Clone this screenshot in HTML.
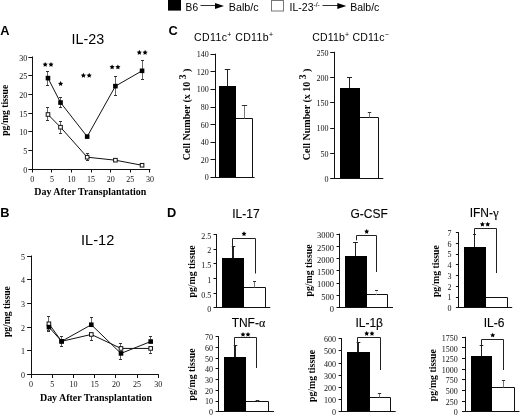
<!DOCTYPE html>
<html><head><meta charset="utf-8"><style>
html,body{margin:0;padding:0;background:#fff;width:520px;height:416px;overflow:hidden;}
svg{display:block;filter:blur(0.3px);}
</style></head><body>
<svg width="520" height="416" viewBox="0 0 520 416">
<text x="0.30" y="35.30" font-family="Liberation Sans, sans-serif" font-size="12.8" font-weight="bold" text-anchor="start" fill="#000" >A</text>
<text x="0.30" y="217.40" font-family="Liberation Sans, sans-serif" font-size="12.8" font-weight="bold" text-anchor="start" fill="#000" >B</text>
<text x="168.60" y="35.40" font-family="Liberation Sans, sans-serif" font-size="12.8" font-weight="bold" text-anchor="start" fill="#000" >C</text>
<text x="167.10" y="217.30" font-family="Liberation Sans, sans-serif" font-size="12.8" font-weight="bold" text-anchor="start" fill="#000" >D</text>
<rect x="168" y="-1" width="13" height="11.6" fill="#000"/>
<text x="185.60" y="11.00" font-family="Liberation Sans, sans-serif" font-size="10.2" font-weight="normal" text-anchor="start" fill="#000" >B6</text>
<line x1="200.50" y1="5.50" x2="216.00" y2="5.50" stroke="#333" stroke-width="1"/>
<polygon points="215,2.9 224,5.9 215,8.9" fill="#000"/>
<text x="228.80" y="11.00" font-family="Liberation Sans, sans-serif" font-size="10.5" font-weight="normal" text-anchor="start" fill="#000" textLength="29.9" lengthAdjust="spacingAndGlyphs">Balb/c</text>
<rect x="271.5" y="0.5" width="12" height="10.5" fill="#fff" stroke="#777" stroke-width="1"/>
<text x="289.60" y="10.90" font-family="Liberation Sans, sans-serif" font-size="10.5" font-weight="normal" text-anchor="start" fill="#000" >IL-23<tspan font-size="6.5" dy="-4.3">-/-</tspan></text>
<line x1="322.50" y1="5.50" x2="338.00" y2="5.50" stroke="#333" stroke-width="1"/>
<polygon points="337.3,2.9 346.3,5.9 337.3,8.9" fill="#000"/>
<text x="350.20" y="10.90" font-family="Liberation Sans, sans-serif" font-size="10.5" font-weight="normal" text-anchor="start" fill="#000" >Balb/c</text>
<line x1="32.50" y1="56.51" x2="32.50" y2="170.00" stroke="#111" stroke-width="1"/>
<line x1="32.00" y1="169.50" x2="150.40" y2="169.50" stroke="#111" stroke-width="1"/>
<line x1="28.30" y1="169.50" x2="32.50" y2="169.50" stroke="#111" stroke-width="1"/>
<text x="27.30" y="172.50" font-family="Liberation Serif, serif" font-size="8" font-weight="normal" text-anchor="end" fill="#111" >0</text>
<line x1="28.30" y1="150.50" x2="32.50" y2="150.50" stroke="#111" stroke-width="1"/>
<text x="27.30" y="153.84" font-family="Liberation Serif, serif" font-size="8" font-weight="normal" text-anchor="end" fill="#111" >5</text>
<line x1="28.30" y1="131.50" x2="32.50" y2="131.50" stroke="#111" stroke-width="1"/>
<text x="27.30" y="135.17" font-family="Liberation Serif, serif" font-size="8" font-weight="normal" text-anchor="end" fill="#111" >10</text>
<line x1="28.30" y1="113.50" x2="32.50" y2="113.50" stroke="#111" stroke-width="1"/>
<text x="27.30" y="116.50" font-family="Liberation Serif, serif" font-size="8" font-weight="normal" text-anchor="end" fill="#111" >15</text>
<line x1="28.30" y1="94.50" x2="32.50" y2="94.50" stroke="#111" stroke-width="1"/>
<text x="27.30" y="97.84" font-family="Liberation Serif, serif" font-size="8" font-weight="normal" text-anchor="end" fill="#111" >20</text>
<line x1="28.30" y1="75.50" x2="32.50" y2="75.50" stroke="#111" stroke-width="1"/>
<text x="27.30" y="79.17" font-family="Liberation Serif, serif" font-size="8" font-weight="normal" text-anchor="end" fill="#111" >25</text>
<line x1="28.30" y1="57.50" x2="32.50" y2="57.50" stroke="#111" stroke-width="1"/>
<text x="27.30" y="60.51" font-family="Liberation Serif, serif" font-size="8" font-weight="normal" text-anchor="end" fill="#111" >30</text>
<line x1="32.50" y1="169.50" x2="32.50" y2="172.50" stroke="#111" stroke-width="1"/>
<text x="32.30" y="181.50" font-family="Liberation Serif, serif" font-size="8" font-weight="normal" text-anchor="middle" fill="#111" >0</text>
<line x1="51.50" y1="169.50" x2="51.50" y2="172.50" stroke="#111" stroke-width="1"/>
<text x="51.90" y="181.50" font-family="Liberation Serif, serif" font-size="8" font-weight="normal" text-anchor="middle" fill="#111" >5</text>
<line x1="71.50" y1="169.50" x2="71.50" y2="172.50" stroke="#111" stroke-width="1"/>
<text x="71.50" y="181.50" font-family="Liberation Serif, serif" font-size="8" font-weight="normal" text-anchor="middle" fill="#111" >10</text>
<line x1="91.50" y1="169.50" x2="91.50" y2="172.50" stroke="#111" stroke-width="1"/>
<text x="91.10" y="181.50" font-family="Liberation Serif, serif" font-size="8" font-weight="normal" text-anchor="middle" fill="#111" >15</text>
<line x1="110.50" y1="169.50" x2="110.50" y2="172.50" stroke="#111" stroke-width="1"/>
<text x="110.70" y="181.50" font-family="Liberation Serif, serif" font-size="8" font-weight="normal" text-anchor="middle" fill="#111" >20</text>
<line x1="130.50" y1="169.50" x2="130.50" y2="172.50" stroke="#111" stroke-width="1"/>
<text x="130.30" y="181.50" font-family="Liberation Serif, serif" font-size="8" font-weight="normal" text-anchor="middle" fill="#111" >25</text>
<line x1="149.50" y1="169.50" x2="149.50" y2="172.50" stroke="#111" stroke-width="1"/>
<text x="149.90" y="181.50" font-family="Liberation Serif, serif" font-size="8" font-weight="normal" text-anchor="middle" fill="#111" >30</text>
<polyline points="47.98,114.50 60.52,127.19 87.18,157.20 115.40,160.19 142.06,165.27" fill="none" stroke="#111" stroke-width="1"/>
<polyline points="47.98,78.10 60.52,102.55 87.18,136.60 115.40,86.13 142.06,70.82" fill="none" stroke="#111" stroke-width="1"/>
<line x1="47.50" y1="114.50" x2="47.50" y2="107.78" stroke="#666" stroke-width="1"/>
<line x1="46.00" y1="107.50" x2="49.00" y2="107.50" stroke="#333" stroke-width="1"/>
<line x1="47.50" y1="114.50" x2="47.50" y2="120.84" stroke="#666" stroke-width="1"/>
<line x1="46.00" y1="120.50" x2="49.00" y2="120.50" stroke="#333" stroke-width="1"/>
<line x1="60.50" y1="127.19" x2="60.50" y2="121.22" stroke="#666" stroke-width="1"/>
<line x1="59.00" y1="121.50" x2="62.00" y2="121.50" stroke="#333" stroke-width="1"/>
<line x1="60.50" y1="127.19" x2="60.50" y2="133.54" stroke="#666" stroke-width="1"/>
<line x1="59.00" y1="133.50" x2="62.00" y2="133.50" stroke="#333" stroke-width="1"/>
<line x1="87.50" y1="157.20" x2="87.50" y2="153.47" stroke="#666" stroke-width="1"/>
<line x1="86.00" y1="153.50" x2="89.00" y2="153.50" stroke="#333" stroke-width="1"/>
<line x1="87.50" y1="157.20" x2="87.50" y2="160.94" stroke="#666" stroke-width="1"/>
<line x1="86.00" y1="160.50" x2="89.00" y2="160.50" stroke="#333" stroke-width="1"/>
<line x1="47.50" y1="78.10" x2="47.50" y2="71.01" stroke="#666" stroke-width="1"/>
<line x1="46.00" y1="71.50" x2="49.00" y2="71.50" stroke="#333" stroke-width="1"/>
<line x1="47.50" y1="78.10" x2="47.50" y2="85.19" stroke="#666" stroke-width="1"/>
<line x1="46.00" y1="85.50" x2="49.00" y2="85.50" stroke="#333" stroke-width="1"/>
<line x1="60.50" y1="102.55" x2="60.50" y2="97.33" stroke="#666" stroke-width="1"/>
<line x1="59.00" y1="97.50" x2="62.00" y2="97.50" stroke="#333" stroke-width="1"/>
<line x1="60.50" y1="102.55" x2="60.50" y2="107.78" stroke="#666" stroke-width="1"/>
<line x1="59.00" y1="107.50" x2="62.00" y2="107.50" stroke="#333" stroke-width="1"/>
<line x1="115.50" y1="86.13" x2="115.50" y2="76.42" stroke="#666" stroke-width="1"/>
<line x1="114.00" y1="76.50" x2="117.00" y2="76.50" stroke="#333" stroke-width="1"/>
<line x1="115.50" y1="86.13" x2="115.50" y2="95.83" stroke="#666" stroke-width="1"/>
<line x1="114.00" y1="95.50" x2="117.00" y2="95.50" stroke="#333" stroke-width="1"/>
<line x1="142.50" y1="70.82" x2="142.50" y2="60.74" stroke="#666" stroke-width="1"/>
<line x1="141.00" y1="60.50" x2="144.00" y2="60.50" stroke="#333" stroke-width="1"/>
<line x1="142.50" y1="70.82" x2="142.50" y2="79.41" stroke="#666" stroke-width="1"/>
<line x1="141.00" y1="79.50" x2="144.00" y2="79.50" stroke="#333" stroke-width="1"/>
<rect x="46.18" y="112.70" width="3.5999999999999996" height="3.5999999999999996" fill="#fff" stroke="#111" stroke-width="1"/>
<rect x="58.72" y="125.39" width="3.5999999999999996" height="3.5999999999999996" fill="#fff" stroke="#111" stroke-width="1"/>
<rect x="85.38" y="155.40" width="3.5999999999999996" height="3.5999999999999996" fill="#fff" stroke="#111" stroke-width="1"/>
<rect x="113.60" y="158.39" width="3.5999999999999996" height="3.5999999999999996" fill="#fff" stroke="#111" stroke-width="1"/>
<rect x="140.26" y="163.47" width="3.5999999999999996" height="3.5999999999999996" fill="#fff" stroke="#111" stroke-width="1"/>
<rect x="45.68" y="75.80" width="4.6" height="4.6" fill="#000"/>
<rect x="58.22" y="100.25" width="4.6" height="4.6" fill="#000"/>
<rect x="84.88" y="134.30" width="4.6" height="4.6" fill="#000"/>
<rect x="113.10" y="83.83" width="4.6" height="4.6" fill="#000"/>
<rect x="139.76" y="68.52" width="4.6" height="4.6" fill="#000"/>
<text x="71.50" y="44.00" font-family="Liberation Sans, sans-serif" font-size="14.3" font-weight="normal" text-anchor="start" fill="#000" >IL-23</text>
<text transform="translate(8.00,110.30) rotate(-90) scale(1,1.0)" font-family="Liberation Serif, serif" font-size="9.6" font-weight="bold" text-anchor="middle" fill="#000">pg/mg tissue</text>
<text x="90.30" y="195.30" font-family="Liberation Serif, serif" font-size="9.95" font-weight="bold" text-anchor="middle" fill="#000" >Day After Transplantation</text>
<polygon points="45.20,61.97 45.99,63.58 47.77,63.84 46.48,65.09 46.79,66.85 45.20,66.02 43.61,66.85 43.92,65.09 42.63,63.84 44.41,63.58" fill="#000"/>
<polygon points="51.00,61.97 51.79,63.58 53.57,63.84 52.28,65.09 52.59,66.85 51.00,66.02 49.41,66.85 49.72,65.09 48.43,63.84 50.21,63.58" fill="#000"/>
<polygon points="60.60,81.07 61.39,82.68 63.17,82.94 61.88,84.19 62.19,85.95 60.60,85.12 59.01,85.95 59.32,84.19 58.03,82.94 59.81,82.68" fill="#000"/>
<polygon points="83.40,72.77 84.19,74.38 85.97,74.64 84.68,75.89 84.99,77.65 83.40,76.82 81.81,77.65 82.12,75.89 80.83,74.64 82.61,74.38" fill="#000"/>
<polygon points="89.20,72.77 89.99,74.38 91.77,74.64 90.48,75.89 90.79,77.65 89.20,76.82 87.61,77.65 87.92,75.89 86.63,74.64 88.41,74.38" fill="#000"/>
<polygon points="112.10,64.47 112.89,66.08 114.67,66.34 113.38,67.59 113.69,69.35 112.10,68.52 110.51,69.35 110.82,67.59 109.53,66.34 111.31,66.08" fill="#000"/>
<polygon points="117.90,64.47 118.69,66.08 120.47,66.34 119.18,67.59 119.49,69.35 117.90,68.52 116.31,69.35 116.62,67.59 115.33,66.34 117.11,66.08" fill="#000"/>
<polygon points="139.30,49.87 140.09,51.48 141.87,51.74 140.58,52.99 140.89,54.75 139.30,53.92 137.71,54.75 138.02,52.99 136.73,51.74 138.51,51.48" fill="#000"/>
<polygon points="145.10,49.87 145.89,51.48 147.67,51.74 146.38,52.99 146.69,54.75 145.10,53.92 143.51,54.75 143.82,52.99 142.53,51.74 144.31,51.48" fill="#000"/>
<line x1="31.50" y1="255.50" x2="31.50" y2="375.00" stroke="#111" stroke-width="1"/>
<line x1="31.00" y1="374.50" x2="158.80" y2="374.50" stroke="#111" stroke-width="1"/>
<line x1="27.10" y1="374.50" x2="31.50" y2="374.50" stroke="#111" stroke-width="1"/>
<text x="25.10" y="378.00" font-family="Liberation Serif, serif" font-size="8" font-weight="normal" text-anchor="end" fill="#111" >0</text>
<line x1="27.10" y1="350.50" x2="31.50" y2="350.50" stroke="#111" stroke-width="1"/>
<text x="25.10" y="354.30" font-family="Liberation Serif, serif" font-size="8" font-weight="normal" text-anchor="end" fill="#111" >1</text>
<line x1="27.10" y1="327.50" x2="31.50" y2="327.50" stroke="#111" stroke-width="1"/>
<text x="25.10" y="330.60" font-family="Liberation Serif, serif" font-size="8" font-weight="normal" text-anchor="end" fill="#111" >2</text>
<line x1="27.10" y1="303.50" x2="31.50" y2="303.50" stroke="#111" stroke-width="1"/>
<text x="25.10" y="306.90" font-family="Liberation Serif, serif" font-size="8" font-weight="normal" text-anchor="end" fill="#111" >3</text>
<line x1="27.10" y1="279.50" x2="31.50" y2="279.50" stroke="#111" stroke-width="1"/>
<text x="25.10" y="283.20" font-family="Liberation Serif, serif" font-size="8" font-weight="normal" text-anchor="end" fill="#111" >4</text>
<line x1="27.10" y1="256.50" x2="31.50" y2="256.50" stroke="#111" stroke-width="1"/>
<text x="25.10" y="259.50" font-family="Liberation Serif, serif" font-size="8" font-weight="normal" text-anchor="end" fill="#111" >5</text>
<line x1="31.50" y1="374.50" x2="31.50" y2="378.00" stroke="#111" stroke-width="1"/>
<text x="31.10" y="387.00" font-family="Liberation Serif, serif" font-size="8" font-weight="normal" text-anchor="middle" fill="#111" >0</text>
<line x1="52.50" y1="374.50" x2="52.50" y2="378.00" stroke="#111" stroke-width="1"/>
<text x="52.30" y="387.00" font-family="Liberation Serif, serif" font-size="8" font-weight="normal" text-anchor="middle" fill="#111" >5</text>
<line x1="73.50" y1="374.50" x2="73.50" y2="378.00" stroke="#111" stroke-width="1"/>
<text x="73.50" y="387.00" font-family="Liberation Serif, serif" font-size="8" font-weight="normal" text-anchor="middle" fill="#111" >10</text>
<line x1="94.50" y1="374.50" x2="94.50" y2="378.00" stroke="#111" stroke-width="1"/>
<text x="94.70" y="387.00" font-family="Liberation Serif, serif" font-size="8" font-weight="normal" text-anchor="middle" fill="#111" >15</text>
<line x1="115.50" y1="374.50" x2="115.50" y2="378.00" stroke="#111" stroke-width="1"/>
<text x="115.90" y="387.00" font-family="Liberation Serif, serif" font-size="8" font-weight="normal" text-anchor="middle" fill="#111" >20</text>
<line x1="137.50" y1="374.50" x2="137.50" y2="378.00" stroke="#111" stroke-width="1"/>
<text x="137.10" y="387.00" font-family="Liberation Serif, serif" font-size="8" font-weight="normal" text-anchor="middle" fill="#111" >25</text>
<line x1="158.50" y1="374.50" x2="158.50" y2="378.00" stroke="#111" stroke-width="1"/>
<text x="158.30" y="387.00" font-family="Liberation Serif, serif" font-size="8" font-weight="normal" text-anchor="middle" fill="#111" >30</text>
<polyline points="48.91,323.78 61.63,341.32 91.31,334.45 120.99,348.43 150.67,348.43" fill="none" stroke="#111" stroke-width="1"/>
<polyline points="48.91,327.10 61.63,341.32 91.31,324.73 120.99,353.41 150.67,341.56" fill="none" stroke="#111" stroke-width="1"/>
<line x1="48.50" y1="323.78" x2="48.50" y2="316.67" stroke="#666" stroke-width="1"/>
<line x1="47.00" y1="316.50" x2="50.00" y2="316.50" stroke="#333" stroke-width="1"/>
<line x1="48.50" y1="323.78" x2="48.50" y2="330.89" stroke="#666" stroke-width="1"/>
<line x1="47.00" y1="330.50" x2="50.00" y2="330.50" stroke="#333" stroke-width="1"/>
<line x1="91.50" y1="334.45" x2="91.50" y2="340.85" stroke="#666" stroke-width="1"/>
<line x1="90.00" y1="340.50" x2="93.00" y2="340.50" stroke="#333" stroke-width="1"/>
<line x1="120.50" y1="348.43" x2="120.50" y2="343.69" stroke="#666" stroke-width="1"/>
<line x1="119.00" y1="343.50" x2="122.00" y2="343.50" stroke="#333" stroke-width="1"/>
<line x1="150.50" y1="348.43" x2="150.50" y2="353.17" stroke="#666" stroke-width="1"/>
<line x1="149.00" y1="353.50" x2="152.00" y2="353.50" stroke="#333" stroke-width="1"/>
<line x1="48.50" y1="327.10" x2="48.50" y2="322.36" stroke="#666" stroke-width="1"/>
<line x1="47.00" y1="322.50" x2="50.00" y2="322.50" stroke="#333" stroke-width="1"/>
<line x1="48.50" y1="327.10" x2="48.50" y2="331.84" stroke="#666" stroke-width="1"/>
<line x1="47.00" y1="331.50" x2="50.00" y2="331.50" stroke="#333" stroke-width="1"/>
<line x1="61.50" y1="341.32" x2="61.50" y2="336.58" stroke="#666" stroke-width="1"/>
<line x1="60.00" y1="336.50" x2="63.00" y2="336.50" stroke="#333" stroke-width="1"/>
<line x1="61.50" y1="341.32" x2="61.50" y2="346.06" stroke="#666" stroke-width="1"/>
<line x1="60.00" y1="346.50" x2="63.00" y2="346.50" stroke="#333" stroke-width="1"/>
<line x1="91.50" y1="324.73" x2="91.50" y2="317.62" stroke="#666" stroke-width="1"/>
<line x1="90.00" y1="317.50" x2="93.00" y2="317.50" stroke="#333" stroke-width="1"/>
<line x1="120.50" y1="353.41" x2="120.50" y2="359.81" stroke="#666" stroke-width="1"/>
<line x1="119.00" y1="359.50" x2="122.00" y2="359.50" stroke="#333" stroke-width="1"/>
<line x1="150.50" y1="341.56" x2="150.50" y2="336.82" stroke="#666" stroke-width="1"/>
<line x1="149.00" y1="336.50" x2="152.00" y2="336.50" stroke="#333" stroke-width="1"/>
<rect x="47.11" y="321.98" width="3.5999999999999996" height="3.5999999999999996" fill="#fff" stroke="#111" stroke-width="1"/>
<rect x="59.83" y="339.52" width="3.5999999999999996" height="3.5999999999999996" fill="#fff" stroke="#111" stroke-width="1"/>
<rect x="89.51" y="332.65" width="3.5999999999999996" height="3.5999999999999996" fill="#fff" stroke="#111" stroke-width="1"/>
<rect x="119.19" y="346.63" width="3.5999999999999996" height="3.5999999999999996" fill="#fff" stroke="#111" stroke-width="1"/>
<rect x="148.87" y="346.63" width="3.5999999999999996" height="3.5999999999999996" fill="#fff" stroke="#111" stroke-width="1"/>
<rect x="46.61" y="324.80" width="4.6" height="4.6" fill="#000"/>
<rect x="59.33" y="339.02" width="4.6" height="4.6" fill="#000"/>
<rect x="89.01" y="322.43" width="4.6" height="4.6" fill="#000"/>
<rect x="118.69" y="351.11" width="4.6" height="4.6" fill="#000"/>
<rect x="148.37" y="339.26" width="4.6" height="4.6" fill="#000"/>
<text x="81.00" y="245.30" font-family="Liberation Sans, sans-serif" font-size="14.6" font-weight="normal" text-anchor="start" fill="#000" >IL-12</text>
<text transform="translate(9.80,311.60) rotate(-90) scale(1,1.0)" font-family="Liberation Serif, serif" font-size="9.6" font-weight="bold" text-anchor="middle" fill="#000">pg/mg tissue</text>
<text x="96.00" y="401.40" font-family="Liberation Serif, serif" font-size="9.95" font-weight="bold" text-anchor="middle" fill="#000" >Day After Transplantation</text>
<line x1="215.50" y1="53.70" x2="215.50" y2="178.00" stroke="#111" stroke-width="1"/>
<line x1="210.50" y1="177.50" x2="215.50" y2="177.50" stroke="#111" stroke-width="1"/>
<text x="208.70" y="180.40" font-family="Liberation Serif, serif" font-size="8" font-weight="normal" text-anchor="end" fill="#111" >0</text>
<line x1="210.50" y1="159.50" x2="215.50" y2="159.50" stroke="#111" stroke-width="1"/>
<text x="208.70" y="162.77" font-family="Liberation Serif, serif" font-size="8" font-weight="normal" text-anchor="end" fill="#111" >20</text>
<line x1="210.50" y1="142.50" x2="215.50" y2="142.50" stroke="#111" stroke-width="1"/>
<text x="208.70" y="145.14" font-family="Liberation Serif, serif" font-size="8" font-weight="normal" text-anchor="end" fill="#111" >40</text>
<line x1="210.50" y1="124.50" x2="215.50" y2="124.50" stroke="#111" stroke-width="1"/>
<text x="208.70" y="127.51" font-family="Liberation Serif, serif" font-size="8" font-weight="normal" text-anchor="end" fill="#111" >60</text>
<line x1="210.50" y1="107.50" x2="215.50" y2="107.50" stroke="#111" stroke-width="1"/>
<text x="208.70" y="109.89" font-family="Liberation Serif, serif" font-size="8" font-weight="normal" text-anchor="end" fill="#111" >80</text>
<line x1="210.50" y1="89.50" x2="215.50" y2="89.50" stroke="#111" stroke-width="1"/>
<text x="208.70" y="92.26" font-family="Liberation Serif, serif" font-size="8" font-weight="normal" text-anchor="end" fill="#111" >100</text>
<line x1="210.50" y1="71.50" x2="215.50" y2="71.50" stroke="#111" stroke-width="1"/>
<text x="208.70" y="74.63" font-family="Liberation Serif, serif" font-size="8" font-weight="normal" text-anchor="end" fill="#111" >120</text>
<line x1="210.50" y1="54.50" x2="215.50" y2="54.50" stroke="#111" stroke-width="1"/>
<text x="208.70" y="57.00" font-family="Liberation Serif, serif" font-size="8" font-weight="normal" text-anchor="end" fill="#111" >140</text>
<rect x="219" y="86" width="17" height="92.00" fill="#000"/>
<path d="M236,118.5 H252.5 V177.5" fill="none" stroke="#111" stroke-width="1"/>
<line x1="227.50" y1="86.00" x2="227.50" y2="69.80" stroke="#222" stroke-width="1"/>
<line x1="224.75" y1="69.50" x2="230.25" y2="69.50" stroke="#222" stroke-width="1"/>
<line x1="244.50" y1="118.50" x2="244.50" y2="105.00" stroke="#777" stroke-width="1"/>
<line x1="241.85" y1="105.50" x2="247.15" y2="105.50" stroke="#333" stroke-width="1"/>
<line x1="215.00" y1="177.50" x2="254.50" y2="177.50" stroke="#111" stroke-width="1"/>
<text x="194.00" y="40.80" font-family="Liberation Sans, sans-serif" font-size="10.5" font-weight="normal" text-anchor="start" fill="#000" letter-spacing="0.4">CD11c<tspan font-size="7" dy="-4">+</tspan><tspan dy="4"> CD11b</tspan><tspan font-size="7" dy="-4">+</tspan></text>
<text transform="translate(189.90,160.20) rotate(-90) scale(1,1.0)" font-family="Liberation Serif, serif" font-size="10" font-weight="bold" text-anchor="start" fill="#000">Cell Number (x 10 <tspan font-size="9.5" dy="-4">3</tspan><tspan dy="4"> )</tspan></text>
<line x1="334.50" y1="51.80" x2="334.50" y2="179.00" stroke="#111" stroke-width="1"/>
<line x1="330.20" y1="178.50" x2="334.50" y2="178.50" stroke="#111" stroke-width="1"/>
<text x="328.40" y="181.80" font-family="Liberation Serif, serif" font-size="8" font-weight="normal" text-anchor="end" fill="#111" >0</text>
<line x1="330.20" y1="153.50" x2="334.50" y2="153.50" stroke="#111" stroke-width="1"/>
<text x="328.40" y="156.54" font-family="Liberation Serif, serif" font-size="8" font-weight="normal" text-anchor="end" fill="#111" >50</text>
<line x1="330.20" y1="128.50" x2="334.50" y2="128.50" stroke="#111" stroke-width="1"/>
<text x="328.40" y="131.28" font-family="Liberation Serif, serif" font-size="8" font-weight="normal" text-anchor="end" fill="#111" >100</text>
<line x1="330.20" y1="102.50" x2="334.50" y2="102.50" stroke="#111" stroke-width="1"/>
<text x="328.40" y="106.02" font-family="Liberation Serif, serif" font-size="8" font-weight="normal" text-anchor="end" fill="#111" >150</text>
<line x1="330.20" y1="77.50" x2="334.50" y2="77.50" stroke="#111" stroke-width="1"/>
<text x="328.40" y="80.76" font-family="Liberation Serif, serif" font-size="8" font-weight="normal" text-anchor="end" fill="#111" >200</text>
<line x1="330.20" y1="52.50" x2="334.50" y2="52.50" stroke="#111" stroke-width="1"/>
<text x="328.40" y="55.50" font-family="Liberation Serif, serif" font-size="8" font-weight="normal" text-anchor="end" fill="#111" >250</text>
<rect x="340" y="88" width="20" height="91.00" fill="#000"/>
<path d="M360,117.5 H378.5 V178.5" fill="none" stroke="#111" stroke-width="1"/>
<line x1="349.50" y1="88.00" x2="349.50" y2="77.20" stroke="#222" stroke-width="1"/>
<line x1="347.00" y1="77.50" x2="352.00" y2="77.50" stroke="#222" stroke-width="1"/>
<line x1="369.50" y1="117.50" x2="369.50" y2="112.20" stroke="#777" stroke-width="1"/>
<line x1="367.80" y1="112.50" x2="371.20" y2="112.50" stroke="#333" stroke-width="1"/>
<line x1="334.00" y1="178.50" x2="383.30" y2="178.50" stroke="#111" stroke-width="1"/>
<text x="312.20" y="40.60" font-family="Liberation Sans, sans-serif" font-size="10.5" font-weight="normal" text-anchor="start" fill="#000" letter-spacing="0.2">CD11b<tspan font-size="7" dy="-4">+</tspan><tspan dy="4"> CD11c</tspan><tspan font-size="7" dy="-4">&#8722;</tspan></text>
<text transform="translate(310.10,160.20) rotate(-90) scale(1,1.0)" font-family="Liberation Serif, serif" font-size="10" font-weight="bold" text-anchor="start" fill="#000">Cell Number (x 10 <tspan font-size="9.5" dy="-4">3</tspan><tspan dy="4"> )</tspan></text>
<line x1="216.50" y1="234.00" x2="216.50" y2="308.00" stroke="#111" stroke-width="1"/>
<line x1="213.50" y1="307.50" x2="216.50" y2="307.50" stroke="#111" stroke-width="1"/>
<text x="211.20" y="312.20" font-family="Liberation Serif, serif" font-size="8" font-weight="normal" text-anchor="end" fill="#111" >0</text>
<line x1="213.50" y1="293.50" x2="216.50" y2="293.50" stroke="#111" stroke-width="1"/>
<text x="211.20" y="297.52" font-family="Liberation Serif, serif" font-size="8" font-weight="normal" text-anchor="end" fill="#111" >0.5</text>
<line x1="213.50" y1="278.50" x2="216.50" y2="278.50" stroke="#111" stroke-width="1"/>
<text x="211.20" y="282.84" font-family="Liberation Serif, serif" font-size="8" font-weight="normal" text-anchor="end" fill="#111" >1</text>
<line x1="213.50" y1="263.50" x2="216.50" y2="263.50" stroke="#111" stroke-width="1"/>
<text x="211.20" y="268.16" font-family="Liberation Serif, serif" font-size="8" font-weight="normal" text-anchor="end" fill="#111" >1.5</text>
<line x1="213.50" y1="249.50" x2="216.50" y2="249.50" stroke="#111" stroke-width="1"/>
<text x="211.20" y="253.48" font-family="Liberation Serif, serif" font-size="8" font-weight="normal" text-anchor="end" fill="#111" >2</text>
<line x1="213.50" y1="234.50" x2="216.50" y2="234.50" stroke="#111" stroke-width="1"/>
<text x="211.20" y="238.80" font-family="Liberation Serif, serif" font-size="8" font-weight="normal" text-anchor="end" fill="#111" >2.5</text>
<rect x="222" y="258" width="22" height="50.00" fill="#000"/>
<path d="M244,287.5 H265.5 V307.5" fill="none" stroke="#111" stroke-width="1"/>
<line x1="233.50" y1="258.00" x2="233.50" y2="246.10" stroke="#222" stroke-width="1"/>
<line x1="231.75" y1="246.50" x2="235.25" y2="246.50" stroke="#222" stroke-width="1"/>
<line x1="254.50" y1="287.50" x2="254.50" y2="281.90" stroke="#777" stroke-width="1"/>
<line x1="253.00" y1="281.50" x2="256.00" y2="281.50" stroke="#333" stroke-width="1"/>
<line x1="216.00" y1="307.50" x2="270.30" y2="307.50" stroke="#111" stroke-width="1"/>
<polyline points="232.50,258.20 232.50,238.50 255.50,238.50 255.50,273.50" fill="none" stroke="#222" stroke-width="1"/>
<polygon points="244.00,231.26 244.76,232.81 246.47,233.06 245.24,234.26 245.53,235.96 244.00,235.16 242.47,235.96 242.76,234.26 241.53,233.06 243.24,232.81" fill="#000"/>
<text x="245.95" y="217.50" font-family="Liberation Sans, sans-serif" font-size="12" font-weight="normal" text-anchor="middle" fill="#000" stroke="#000" stroke-width="0.12">IL-17</text>
<text transform="translate(194.50,271.50) rotate(-90) scale(1,1.0)" font-family="Liberation Serif, serif" font-size="9.8" font-weight="bold" text-anchor="middle" fill="#000">pg/mg tissue</text>
<line x1="339.50" y1="233.60" x2="339.50" y2="308.00" stroke="#111" stroke-width="1"/>
<line x1="336.50" y1="307.50" x2="339.50" y2="307.50" stroke="#111" stroke-width="1"/>
<text x="334.00" y="311.80" font-family="Liberation Serif, serif" font-size="8.5" font-weight="normal" text-anchor="end" fill="#111" >0</text>
<line x1="336.50" y1="295.50" x2="339.50" y2="295.50" stroke="#111" stroke-width="1"/>
<text x="334.00" y="299.55" font-family="Liberation Serif, serif" font-size="8.5" font-weight="normal" text-anchor="end" fill="#111" >500</text>
<line x1="336.50" y1="283.50" x2="339.50" y2="283.50" stroke="#111" stroke-width="1"/>
<text x="334.00" y="287.30" font-family="Liberation Serif, serif" font-size="8.5" font-weight="normal" text-anchor="end" fill="#111" >1000</text>
<line x1="336.50" y1="270.50" x2="339.50" y2="270.50" stroke="#111" stroke-width="1"/>
<text x="334.00" y="275.05" font-family="Liberation Serif, serif" font-size="8.5" font-weight="normal" text-anchor="end" fill="#111" >1500</text>
<line x1="336.50" y1="258.50" x2="339.50" y2="258.50" stroke="#111" stroke-width="1"/>
<text x="334.00" y="262.80" font-family="Liberation Serif, serif" font-size="8.5" font-weight="normal" text-anchor="end" fill="#111" >2000</text>
<line x1="336.50" y1="246.50" x2="339.50" y2="246.50" stroke="#111" stroke-width="1"/>
<text x="334.00" y="250.55" font-family="Liberation Serif, serif" font-size="8.5" font-weight="normal" text-anchor="end" fill="#111" >2500</text>
<line x1="336.50" y1="234.50" x2="339.50" y2="234.50" stroke="#111" stroke-width="1"/>
<text x="334.00" y="238.30" font-family="Liberation Serif, serif" font-size="8.5" font-weight="normal" text-anchor="end" fill="#111" >3000</text>
<rect x="345" y="256" width="22" height="52.00" fill="#000"/>
<path d="M367,294.5 H387.5 V307.5" fill="none" stroke="#111" stroke-width="1"/>
<line x1="355.50" y1="256.00" x2="355.50" y2="242.40" stroke="#222" stroke-width="1"/>
<line x1="353.10" y1="242.50" x2="357.90" y2="242.50" stroke="#222" stroke-width="1"/>
<line x1="376.50" y1="294.50" x2="376.50" y2="290.50" stroke="#ddd" stroke-width="1"/>
<line x1="375.00" y1="290.50" x2="378.00" y2="290.50" stroke="#333" stroke-width="1"/>
<line x1="339.00" y1="307.50" x2="393.00" y2="307.50" stroke="#111" stroke-width="1"/>
<polyline points="356.50,240.30 356.50,235.50 376.50,235.50 376.50,272.00" fill="none" stroke="#222" stroke-width="1"/>
<polygon points="366.70,229.06 367.46,230.61 369.17,230.86 367.94,232.06 368.23,233.76 366.70,232.96 365.17,233.76 365.46,232.06 364.23,230.86 365.94,230.61" fill="#000"/>
<text x="369.15" y="217.50" font-family="Liberation Sans, sans-serif" font-size="12" font-weight="normal" text-anchor="middle" fill="#000" stroke="#000" stroke-width="0.12">G-CSF</text>
<text transform="translate(312.00,270.50) rotate(-90) scale(1,1.0)" font-family="Liberation Serif, serif" font-size="9.8" font-weight="bold" text-anchor="middle" fill="#000">pg/mg tissue</text>
<line x1="458.50" y1="232.10" x2="458.50" y2="308.00" stroke="#111" stroke-width="1"/>
<line x1="455.90" y1="307.50" x2="458.50" y2="307.50" stroke="#111" stroke-width="1"/>
<text x="451.40" y="311.20" font-family="Liberation Serif, serif" font-size="8" font-weight="normal" text-anchor="end" fill="#111" >0</text>
<line x1="455.90" y1="297.50" x2="458.50" y2="297.50" stroke="#111" stroke-width="1"/>
<text x="451.40" y="300.46" font-family="Liberation Serif, serif" font-size="8" font-weight="normal" text-anchor="end" fill="#111" >1</text>
<line x1="455.90" y1="286.50" x2="458.50" y2="286.50" stroke="#111" stroke-width="1"/>
<text x="451.40" y="289.71" font-family="Liberation Serif, serif" font-size="8" font-weight="normal" text-anchor="end" fill="#111" >2</text>
<line x1="455.90" y1="275.50" x2="458.50" y2="275.50" stroke="#111" stroke-width="1"/>
<text x="451.40" y="278.97" font-family="Liberation Serif, serif" font-size="8" font-weight="normal" text-anchor="end" fill="#111" >3</text>
<line x1="455.90" y1="264.50" x2="458.50" y2="264.50" stroke="#111" stroke-width="1"/>
<text x="451.40" y="268.23" font-family="Liberation Serif, serif" font-size="8" font-weight="normal" text-anchor="end" fill="#111" >4</text>
<line x1="455.90" y1="254.50" x2="458.50" y2="254.50" stroke="#111" stroke-width="1"/>
<text x="451.40" y="257.49" font-family="Liberation Serif, serif" font-size="8" font-weight="normal" text-anchor="end" fill="#111" >5</text>
<line x1="455.90" y1="243.50" x2="458.50" y2="243.50" stroke="#111" stroke-width="1"/>
<text x="451.40" y="246.74" font-family="Liberation Serif, serif" font-size="8" font-weight="normal" text-anchor="end" fill="#111" >6</text>
<line x1="455.90" y1="232.50" x2="458.50" y2="232.50" stroke="#111" stroke-width="1"/>
<text x="451.40" y="236.00" font-family="Liberation Serif, serif" font-size="8" font-weight="normal" text-anchor="end" fill="#111" >7</text>
<rect x="464" y="247" width="22" height="61.00" fill="#000"/>
<path d="M486,297.5 H507.5 V307.5" fill="none" stroke="#111" stroke-width="1"/>
<line x1="474.50" y1="247.00" x2="474.50" y2="234.40" stroke="#222" stroke-width="1"/>
<line x1="473.00" y1="234.50" x2="476.00" y2="234.50" stroke="#222" stroke-width="1"/>
<line x1="458.00" y1="307.50" x2="512.20" y2="307.50" stroke="#111" stroke-width="1"/>
<polyline points="474.50,247.10 474.50,228.50 496.50,228.50 496.50,273.00" fill="none" stroke="#222" stroke-width="1"/>
<polygon points="482.40,221.76 483.16,223.31 484.87,223.56 483.64,224.76 483.93,226.46 482.40,225.66 480.87,226.46 481.16,224.76 479.93,223.56 481.64,223.31" fill="#000"/>
<polygon points="487.70,221.76 488.46,223.31 490.17,223.56 488.94,224.76 489.23,226.46 487.70,225.66 486.17,226.46 486.46,224.76 485.23,223.56 486.94,223.31" fill="#000"/>
<text x="484.25" y="217.30" font-family="Liberation Sans, sans-serif" font-size="12" font-weight="normal" text-anchor="middle" fill="#000" stroke="#000" stroke-width="0.12">IFN-<tspan font-family="Liberation Serif, serif" font-size="13">&#947;</tspan></text>
<text transform="translate(439.20,271.10) rotate(-90) scale(1,1.0)" font-family="Liberation Serif, serif" font-size="9.8" font-weight="bold" text-anchor="middle" fill="#000">pg/mg tissue</text>
<line x1="218.50" y1="336.20" x2="218.50" y2="412.00" stroke="#111" stroke-width="1"/>
<line x1="215.60" y1="411.50" x2="218.50" y2="411.50" stroke="#111" stroke-width="1"/>
<text x="213.10" y="415.20" font-family="Liberation Serif, serif" font-size="8" font-weight="normal" text-anchor="end" fill="#111" >0</text>
<line x1="215.60" y1="401.50" x2="218.50" y2="401.50" stroke="#111" stroke-width="1"/>
<text x="213.10" y="404.47" font-family="Liberation Serif, serif" font-size="8" font-weight="normal" text-anchor="end" fill="#111" >10</text>
<line x1="215.60" y1="390.50" x2="218.50" y2="390.50" stroke="#111" stroke-width="1"/>
<text x="213.10" y="393.74" font-family="Liberation Serif, serif" font-size="8" font-weight="normal" text-anchor="end" fill="#111" >20</text>
<line x1="215.60" y1="379.50" x2="218.50" y2="379.50" stroke="#111" stroke-width="1"/>
<text x="213.10" y="383.01" font-family="Liberation Serif, serif" font-size="8" font-weight="normal" text-anchor="end" fill="#111" >30</text>
<line x1="215.60" y1="368.50" x2="218.50" y2="368.50" stroke="#111" stroke-width="1"/>
<text x="213.10" y="372.29" font-family="Liberation Serif, serif" font-size="8" font-weight="normal" text-anchor="end" fill="#111" >40</text>
<line x1="215.60" y1="358.50" x2="218.50" y2="358.50" stroke="#111" stroke-width="1"/>
<text x="213.10" y="361.56" font-family="Liberation Serif, serif" font-size="8" font-weight="normal" text-anchor="end" fill="#111" >50</text>
<line x1="215.60" y1="347.50" x2="218.50" y2="347.50" stroke="#111" stroke-width="1"/>
<text x="213.10" y="350.83" font-family="Liberation Serif, serif" font-size="8" font-weight="normal" text-anchor="end" fill="#111" >60</text>
<line x1="215.60" y1="336.50" x2="218.50" y2="336.50" stroke="#111" stroke-width="1"/>
<text x="213.10" y="340.10" font-family="Liberation Serif, serif" font-size="8" font-weight="normal" text-anchor="end" fill="#111" >70</text>
<rect x="224" y="357" width="22" height="55.00" fill="#000"/>
<path d="M246,401.5 H268.5 V411.5" fill="none" stroke="#111" stroke-width="1"/>
<line x1="235.50" y1="357.00" x2="235.50" y2="345.30" stroke="#222" stroke-width="1"/>
<line x1="233.75" y1="345.50" x2="237.25" y2="345.50" stroke="#222" stroke-width="1"/>
<line x1="257.50" y1="401.50" x2="257.50" y2="400.30" stroke="#777" stroke-width="1"/>
<line x1="255.70" y1="400.50" x2="259.30" y2="400.50" stroke="#333" stroke-width="1"/>
<line x1="218.00" y1="411.50" x2="274.00" y2="411.50" stroke="#111" stroke-width="1"/>
<polyline points="234.50,357.30 234.50,337.50 256.50,337.50 256.50,368.00" fill="none" stroke="#222" stroke-width="1"/>
<polygon points="243.00,331.96 243.76,333.51 245.47,333.76 244.24,334.96 244.53,336.66 243.00,335.86 241.47,336.66 241.76,334.96 240.53,333.76 242.24,333.51" fill="#000"/>
<polygon points="248.00,331.96 248.76,333.51 250.47,333.76 249.24,334.96 249.53,336.66 248.00,335.86 246.47,336.66 246.76,334.96 245.53,333.76 247.24,333.51" fill="#000"/>
<text x="248.45" y="326.60" font-family="Liberation Sans, sans-serif" font-size="12" font-weight="normal" text-anchor="middle" fill="#000" stroke="#000" stroke-width="0.12">TNF-<tspan font-family="Liberation Serif, serif">&#945;</tspan></text>
<text transform="translate(195.00,374.50) rotate(-90) scale(1,1.0)" font-family="Liberation Serif, serif" font-size="9.8" font-weight="bold" text-anchor="middle" fill="#000">pg/mg tissue</text>
<line x1="341.50" y1="338.10" x2="341.50" y2="412.00" stroke="#111" stroke-width="1"/>
<line x1="338.60" y1="411.50" x2="341.50" y2="411.50" stroke="#111" stroke-width="1"/>
<text x="336.10" y="415.40" font-family="Liberation Serif, serif" font-size="8" font-weight="normal" text-anchor="end" fill="#111" >0</text>
<line x1="338.60" y1="399.50" x2="341.50" y2="399.50" stroke="#111" stroke-width="1"/>
<text x="336.10" y="403.20" font-family="Liberation Serif, serif" font-size="8" font-weight="normal" text-anchor="end" fill="#111" >100</text>
<line x1="338.60" y1="387.50" x2="341.50" y2="387.50" stroke="#111" stroke-width="1"/>
<text x="336.10" y="391.00" font-family="Liberation Serif, serif" font-size="8" font-weight="normal" text-anchor="end" fill="#111" >200</text>
<line x1="338.60" y1="375.50" x2="341.50" y2="375.50" stroke="#111" stroke-width="1"/>
<text x="336.10" y="378.80" font-family="Liberation Serif, serif" font-size="8" font-weight="normal" text-anchor="end" fill="#111" >300</text>
<line x1="338.60" y1="363.50" x2="341.50" y2="363.50" stroke="#111" stroke-width="1"/>
<text x="336.10" y="366.60" font-family="Liberation Serif, serif" font-size="8" font-weight="normal" text-anchor="end" fill="#111" >400</text>
<line x1="338.60" y1="350.50" x2="341.50" y2="350.50" stroke="#111" stroke-width="1"/>
<text x="336.10" y="354.40" font-family="Liberation Serif, serif" font-size="8" font-weight="normal" text-anchor="end" fill="#111" >500</text>
<line x1="338.60" y1="338.50" x2="341.50" y2="338.50" stroke="#111" stroke-width="1"/>
<text x="336.10" y="342.20" font-family="Liberation Serif, serif" font-size="8" font-weight="normal" text-anchor="end" fill="#111" >600</text>
<rect x="347" y="352" width="23" height="60.00" fill="#000"/>
<path d="M370,397.5 H390.5 V411.5" fill="none" stroke="#111" stroke-width="1"/>
<line x1="358.50" y1="352.00" x2="358.50" y2="342.00" stroke="#222" stroke-width="1"/>
<line x1="356.65" y1="342.50" x2="360.35" y2="342.50" stroke="#222" stroke-width="1"/>
<line x1="379.50" y1="397.50" x2="379.50" y2="393.80" stroke="#777" stroke-width="1"/>
<line x1="377.80" y1="393.50" x2="381.20" y2="393.50" stroke="#333" stroke-width="1"/>
<line x1="341.00" y1="411.50" x2="395.70" y2="411.50" stroke="#111" stroke-width="1"/>
<polyline points="357.50,352.50 357.50,337.50 380.50,337.50 380.50,370.00" fill="none" stroke="#222" stroke-width="1"/>
<polygon points="366.70,331.06 367.46,332.61 369.17,332.86 367.94,334.06 368.23,335.76 366.70,334.96 365.17,335.76 365.46,334.06 364.23,332.86 365.94,332.61" fill="#000"/>
<polygon points="372.00,331.06 372.76,332.61 374.47,332.86 373.24,334.06 373.53,335.76 372.00,334.96 370.47,335.76 370.76,334.06 369.53,332.86 371.24,332.61" fill="#000"/>
<text x="369.20" y="326.70" font-family="Liberation Sans, sans-serif" font-size="12" font-weight="normal" text-anchor="middle" fill="#000" stroke="#000" stroke-width="0.12">IL-1&#946;</text>
<text transform="translate(315.30,376.00) rotate(-90) scale(1,1.0)" font-family="Liberation Serif, serif" font-size="9.8" font-weight="bold" text-anchor="middle" fill="#000">pg/mg tissue</text>
<line x1="465.50" y1="336.80" x2="465.50" y2="412.00" stroke="#111" stroke-width="1"/>
<line x1="462.00" y1="411.50" x2="465.50" y2="411.50" stroke="#111" stroke-width="1"/>
<text x="457.70" y="415.40" font-family="Liberation Serif, serif" font-size="8" font-weight="normal" text-anchor="end" fill="#111" >0</text>
<line x1="462.00" y1="401.50" x2="465.50" y2="401.50" stroke="#111" stroke-width="1"/>
<text x="457.70" y="404.76" font-family="Liberation Serif, serif" font-size="8" font-weight="normal" text-anchor="end" fill="#111" >250</text>
<line x1="462.00" y1="390.50" x2="465.50" y2="390.50" stroke="#111" stroke-width="1"/>
<text x="457.70" y="394.11" font-family="Liberation Serif, serif" font-size="8" font-weight="normal" text-anchor="end" fill="#111" >500</text>
<line x1="462.00" y1="379.50" x2="465.50" y2="379.50" stroke="#111" stroke-width="1"/>
<text x="457.70" y="383.47" font-family="Liberation Serif, serif" font-size="8" font-weight="normal" text-anchor="end" fill="#111" >750</text>
<line x1="462.00" y1="369.50" x2="465.50" y2="369.50" stroke="#111" stroke-width="1"/>
<text x="457.70" y="372.83" font-family="Liberation Serif, serif" font-size="8" font-weight="normal" text-anchor="end" fill="#111" >1000</text>
<line x1="462.00" y1="358.50" x2="465.50" y2="358.50" stroke="#111" stroke-width="1"/>
<text x="457.70" y="362.19" font-family="Liberation Serif, serif" font-size="8" font-weight="normal" text-anchor="end" fill="#111" >1250</text>
<line x1="462.00" y1="347.50" x2="465.50" y2="347.50" stroke="#111" stroke-width="1"/>
<text x="457.70" y="351.54" font-family="Liberation Serif, serif" font-size="8" font-weight="normal" text-anchor="end" fill="#111" >1500</text>
<line x1="462.00" y1="337.50" x2="465.50" y2="337.50" stroke="#111" stroke-width="1"/>
<text x="457.70" y="340.90" font-family="Liberation Serif, serif" font-size="8" font-weight="normal" text-anchor="end" fill="#111" >1750</text>
<rect x="471" y="356" width="21" height="56.00" fill="#000"/>
<path d="M492,387.5 H514.5 V411.5" fill="none" stroke="#111" stroke-width="1"/>
<line x1="481.50" y1="356.00" x2="481.50" y2="345.10" stroke="#222" stroke-width="1"/>
<line x1="479.70" y1="345.50" x2="483.30" y2="345.50" stroke="#222" stroke-width="1"/>
<line x1="503.50" y1="387.50" x2="503.50" y2="380.40" stroke="#777" stroke-width="1"/>
<line x1="501.90" y1="380.50" x2="505.10" y2="380.50" stroke="#333" stroke-width="1"/>
<line x1="465.00" y1="411.50" x2="519.50" y2="411.50" stroke="#111" stroke-width="1"/>
<polyline points="481.50,356.10 481.50,339.50 503.50,339.50 503.50,370.00" fill="none" stroke="#222" stroke-width="1"/>
<polygon points="492.70,332.66 493.46,334.21 495.17,334.46 493.94,335.66 494.23,337.36 492.70,336.56 491.17,337.36 491.46,335.66 490.23,334.46 491.94,334.21" fill="#000"/>
<text x="494.10" y="326.90" font-family="Liberation Sans, sans-serif" font-size="12" font-weight="normal" text-anchor="middle" fill="#000" stroke="#000" stroke-width="0.12">IL-6</text>
<text transform="translate(435.60,375.20) rotate(-90) scale(1,1.0)" font-family="Liberation Serif, serif" font-size="9.8" font-weight="bold" text-anchor="middle" fill="#000">pg/mg tissue</text>
</svg>
</body></html>
